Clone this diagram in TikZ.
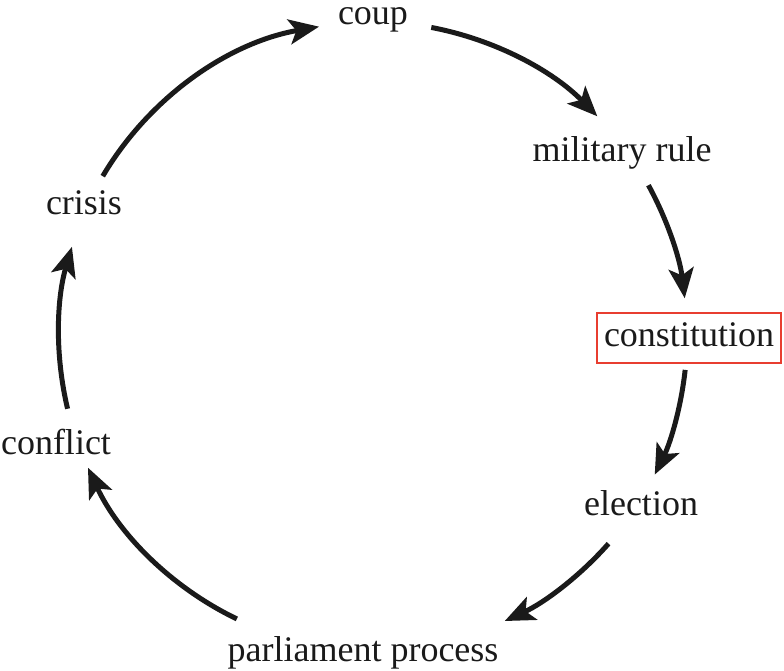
\documentclass[tikz,border=0pt]{standalone}
\usepackage{fontspec}
\setmainfont{Liberation Serif}
\usetikzlibrary{arrows.meta,calc}
\definecolor{boxred}{RGB}{232,62,48}
\definecolor{ink}{RGB}{26,26,26}
\begin{document}
\begin{tikzpicture}[x=1pt,y=1pt,
  lbl/.style={anchor=base,inner sep=0pt,text=ink,font=\fontsize{36}{40}\selectfont},
  redbox/.style={draw=boxred,line width=2.5pt,inner sep=0pt,minimum width=184pt,text height=34pt,text depth=16pt},
  cyc/.style={draw=ink,line width=5pt,-{Stealth[length=30pt,width=25pt,inset=7pt]}}]
\useasboundingbox (0,0) rectangle (784,671);
\coordinate (O) at (373,335);
% labels (baselines from the reference)
\node[lbl] (coup) at (373,646) {coup};
\node[lbl] (mil) at (622,509) {military rule};
\node[lbl,redbox] (const) at (689,324) {constitution};
\node[lbl] (elec) at (641,155) {election};
\node[lbl] (parl) at (363,9) {parliament process};
\node[lbl] (confl) at (56,216) {conflict};
\node[lbl] (crisis) at (84,456) {crisis};
% arrow starts on the cycle circle
\coordinate (s1) at ($(O)+(149.4:314)$);
\coordinate (s2) at ($(O)+(79.3:314)$);
\coordinate (s3) at ($(O)+(28.7:314)$);
\coordinate (s4) at ($(O)+(-6.2:314)$);
\coordinate (s5) at ($(O)+(-41.4:314)$);
\coordinate (s6) at ($(O)+(-115.7:314)$);
\coordinate (s7) at ($(O)+(193.4:314)$);
\draw[cyc] (s1) arc[start angle=149.4,end angle=99.9,radius=314];
\draw[cyc] (s2) arc[start angle=79.3,end angle=44.4,radius=314];
\draw[cyc] (s3) arc[start angle=28.7,end angle=6.9,radius=314];
\draw[cyc] (s4) arc[start angle=-6.2,end angle=-26.2,radius=314];
\draw[cyc] (s5) arc[start angle=-41.4,end angle=-65.2,radius=314];
\draw[cyc] (s6) arc[start angle=-115.7,end angle=-155.2,radius=314];
\draw[cyc] (s7) arc[start angle=193.4,end angle=163.5,radius=314];
\end{tikzpicture}
\end{document}
